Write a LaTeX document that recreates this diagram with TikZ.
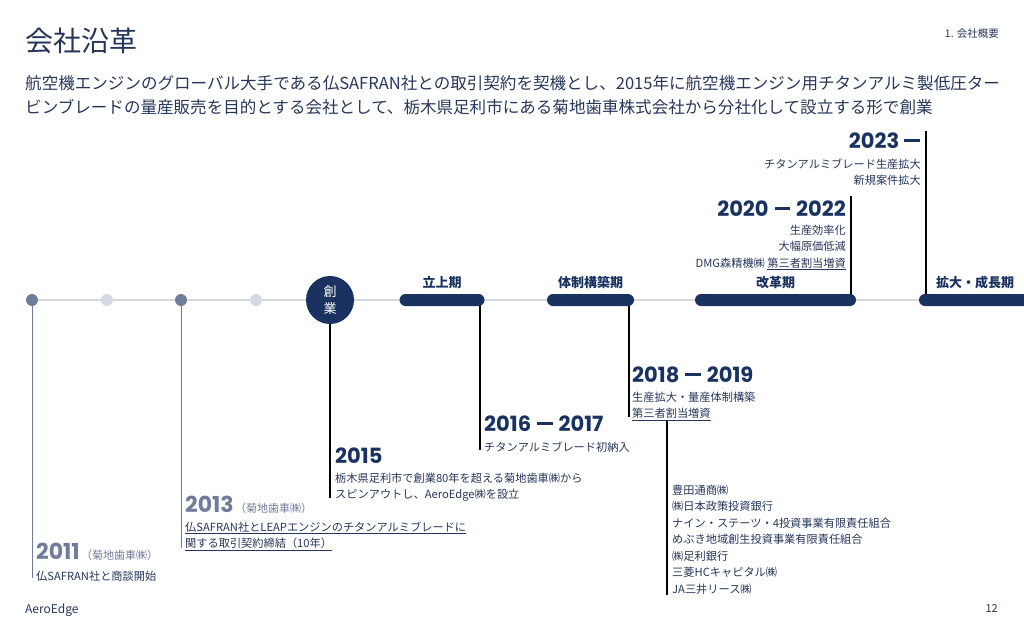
\documentclass[tikz,border=0pt]{standalone}
\usepackage{fontspec}
\setmainfont{Noto Sans CJK JP}
\newfontfamily\yearfont{Poppins}
\usepackage{xcolor}
\usepackage{tikz}
\usetikzlibrary{positioning}

\definecolor{navy}{HTML}{1A3260}
\definecolor{ink}{HTML}{26375A}
\definecolor{slate}{HTML}{6F7D9A}
\definecolor{pale}{HTML}{D3D8E2}

\newcommand{\yrbar}{\rule[6.2pt]{15.5pt}{2.8pt}}
\newcommand{\yrdash}{\hspace{6pt}\yrbar\hspace{6pt}}

\tikzset{
  dot/.style={circle, fill=#1, minimum size=12pt, inner sep=0pt},
  phasebar/.style={fill=navy, rounded corners=6pt, minimum height=12pt, inner sep=0pt},
  phase/.style={font=\fontsize{13}{13}\selectfont\bfseries, text=navy},
  year/.style={font=\fontsize{21}{21}\yearfont\bfseries, text=navy, anchor=base west},
  oldyear/.style={font=\fontsize{22}{22}\yearfont\bfseries, text=slate, anchor=base west},
  note/.style={font=\fontsize{11}{11}\selectfont, text=slate, anchor=base west},
  desc/.style={font=\fontsize{11.2}{16.5}\selectfont, text=ink, align=left, anchor=base west},
  stem/.style={line width=1.8pt, black},
  thinstem/.style={line width=1pt, slate},
}

\begin{document}
\begin{tikzpicture}[x=1pt, y=-1pt, every node/.style={inner sep=0pt}]
\useasboundingbox (0,0) rectangle (1024,640);

% header (multi-line nodes sit on the baseline of their last line)
\node[anchor=base west, font=\fontsize{28}{28}\selectfont, text=ink] (title) at (25,51) {会社沿革};
\node[anchor=base east, font=\fontsize{10.5}{10.5}\selectfont, text=ink] (chapter) at (999,37) {1. 会社概要};
\node[anchor=base west, align=left, font=\fontsize{16.55}{24}\selectfont, text=ink] (lead) at (25,113)
  {航空機エンジンのグローバル大手である仏SAFRAN社との取引契約を契機とし、2015年に航空機エンジン用チタンアルミ製低圧ター\\
   ビンブレードの量産販売を目的とする会社として、栃木県足利市にある菊地歯車株式会社から分社化して設立する形で創業};

% timeline
\coordinate (tStart) at (32,300);
\coordinate (tEnd) at (1024,300);
\draw[pale, line width=1.3pt] (tStart) -- (tEnd);

% stems from the phases
\coordinate (s16) at (480,300);  \coordinate (e16) at (480,450);
\coordinate (s18) at (629,300);  \coordinate (e18) at (629,417);
\coordinate (s18b) at (667,421); \coordinate (e18b) at (667,595);
\coordinate (s20) at (851,196);  \coordinate (e20) at (851,300);
\coordinate (s23) at (926,131);  \coordinate (e23) at (926,300);
\draw[stem] (s16) -- (e16);
\draw[stem] (s18) -- (e18);
\draw[line width=1.2pt] (s18b) -- (e18b);
\draw[stem] (s20) -- (e20);
\draw[stem] (s23) -- (e23);

% phases
\node[phasebar, minimum width=85pt] (p1) at (442,300) {};
\node[phasebar, minimum width=87pt] (p2) at (590.5,300) {};
\node[phasebar, minimum width=161pt] (p3) at (775.5,300) {};
\node[phasebar, minimum width=125pt] (p4) at (981.5,300) {};
\node[phase, above=5pt of p1] (l1) {立上期};
\node[phase, above=5pt of p2] (l2) {体制構築期};
\node[phase, above=5pt of p3] (l3) {改革期};
\node[phase, anchor=south] (l4) at (975,289) {拡大・成長期};

% dots
\node[dot=slate] (d2011) at (32,300) {};
\node[dot=pale] (d2012) at (107,300) {};
\node[dot=slate] (d2013) at (181,300) {};
\node[dot=pale] (d2014) at (256,300) {};
\node[circle, fill=navy, minimum size=48pt, text=white, align=center,
      font=\fontsize{13}{17}\selectfont] (found) at (330,300) {創\\業};

\coordinate (e2011) at (32,578);
\coordinate (e2013) at (181,548);
\coordinate (e2015) at (330,498);
\draw[thinstem] (d2011) -- (e2011);
\draw[thinstem] (d2013) -- (e2013);
\draw[stem] (found) -- (e2015);

% 2011
\node[oldyear] (y2011) at (36,559) {2011};
\node[note] (n2011) at ([xshift=1pt]y2011.base east) {（菊地歯車㈱）};
\node[desc] (t2011) at (36,580) {仏SAFRAN社と商談開始};

% 2013
\node[oldyear] (y2013) at (185,512) {2013};
\node[note] (n2013) at ([xshift=1pt]y2013.base east) {（菊地歯車㈱）};
\node[desc] (t2013) at (185,547.5)
  {\underline{仏SAFRAN社とLEAPエンジンのチタンアルミブレードに}\\\underline{関する取引契約締結（10年）}};

% 2015
\node[year] (y2015) at (335,463) {2015};
\node[desc] (t2015) at (335,498.5)
  {栃木県足利市で創業80年を超える菊地歯車㈱から\\スピンアウトし、AeroEdge㈱を設立};

% 2016 - 2017
\node[year] (y2016) at (484,431) {2016\yrdash2017};
\node[desc] (t2016) at (484,451) {チタンアルミブレード初納入};

% 2018 - 2019
\node[year] (y2018) at (632,382) {2018\yrdash2019};
\node[desc] (t2018) at (632,417.5) {生産拡大・量産体制構築\\\underline{第三者割当増資}};
\node[desc] (inv) at (672,593)
  {豊田通商㈱\\㈱日本政策投資銀行\\ナイン・ステーツ・4投資事業有限責任組合\\めぶき地域創生投資事業有限責任組合\\㈱足利銀行\\三菱HCキャピタル㈱\\JA三井リース㈱};

% 2020 - 2022
\node[year, anchor=base east] (y2020) at (846,216) {2020\yrdash2022};
\node[desc, align=right, anchor=base east] (t2020) at (846,267)
  {生産効率化\\大幅原価低減\\DMG森精機㈱\ \underline{第三者割当増資}};

% 2023 -
\node[year, anchor=base east] (y2023) at (920,148) {2023\hspace{5pt}\yrbar};
\node[desc, align=right, anchor=base east] (t2023) at (921,184.5)
  {チタンアルミブレード生産拡大\\新規案件拡大};

% footer
\node[anchor=base west, font=\fontsize{12}{12}\selectfont, text=ink] (brand) at (25,613) {AeroEdge};
\node[anchor=base east, font=\fontsize{11}{11}\selectfont, text=ink] (page) at (998,612) {12};
\end{tikzpicture}
\end{document}
